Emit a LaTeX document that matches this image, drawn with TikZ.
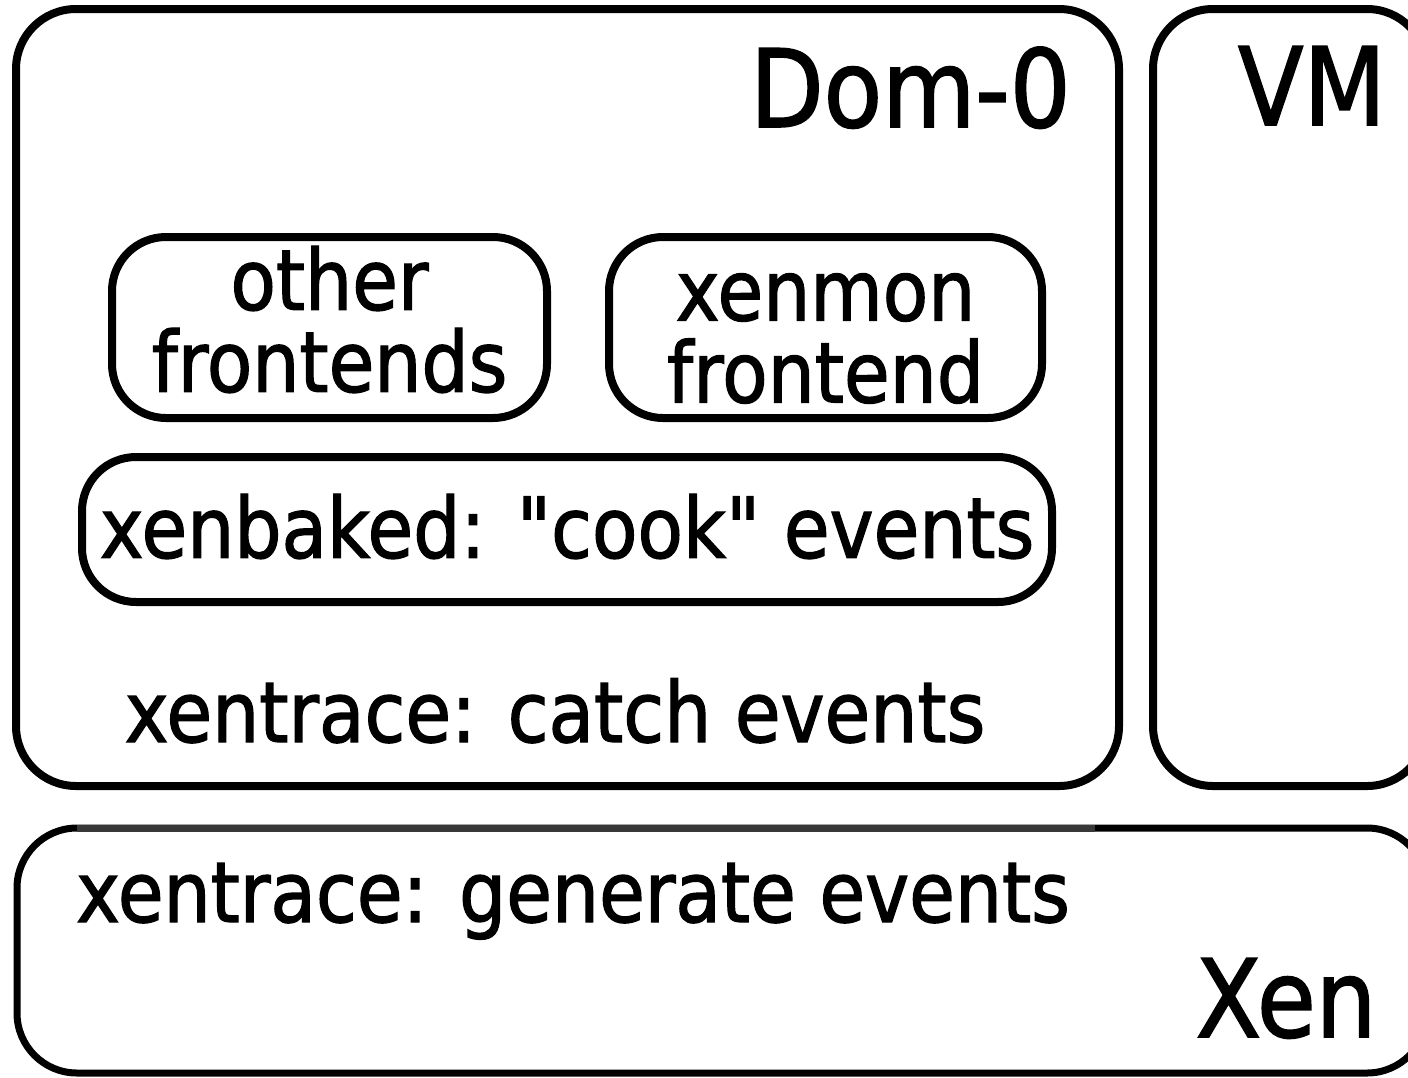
\documentclass[tikz,border=0pt]{standalone}
\usepackage{fontspec}
\setmainfont{DejaVu Sans}[FakeStretch=0.885, FakeBold=1.5, Ligatures=TeXOff]
\usepackage{tikz}
\newcommand{\smalltext}{\fontsize{42pt}{41pt}\selectfont}
\newcommand{\bigtext}{\fontsize{54pt}{54pt}\selectfont}
\tikzstyle{box}=[draw, line width=4pt, inner sep=0, outer sep=0]
\tikzstyle{dombox}=[box, rounded corners=30pt]
\tikzstyle{progbox}=[box, rounded corners=27pt, font=\smalltext, align=center]

\begin{document}
\begin{tikzpicture}[x=0.5pt, y=-0.5pt, every node/.style={inner sep=0}]
        \useasboundingbox (0,0) rectangle (1408,1077);
        % domains
        \node[dombox, minimum width=551.5pt, minimum height=388.5pt] (dom0) at (567.5,397.5) {};
        \node[dombox, minimum width=137pt, minimum height=388.5pt] (vm) at (1290,397.5) {};
        \node[dombox, line width=3.5pt, minimum width=705pt, minimum height=122.5pt] (xen) at (722,950.5) {};
        \draw[line width=3.5pt, black!78] ([xshift=30pt]xen.north west) -- ([xshift=539pt]xen.north west);
        % programs in dom-0
        \node[progbox, minimum width=217.5pt, minimum height=90.5pt] (other) at (329.5,327.5) {};
        \node[progbox, minimum width=216.5pt, minimum height=90.5pt] (xenmon) at (825.5,327.5) {};
        \node[progbox, minimum width=485pt, minimum height=72.5pt] (baked) at (567,529.5) {};
        \node[font=\smalltext, align=center, yshift=4pt] (othertext) at (other) {other\\frontends};
        \node[font=\smalltext, align=center, yshift=-5.5pt] (xenmontext) at (xenmon) {xenmon\\frontend};
        \node[font=\smalltext, yshift=1.5pt] (bakedtext) at (baked) {xenbaked: "cook" events};
        % labels
        \node[font=\bigtext, anchor=base east] (dom0label) at (1071,127) {Dom-0};
        \node[font=\bigtext, anchor=base] (vmlabel) at (1312,125) {VM};
        \node[font=\smalltext, anchor=base] (catch) at (555,742) {xentrace: catch events};
        \node[font=\smalltext, anchor=base] (generate) at (573,922) {xentrace: generate events};
        \node[font=\bigtext, anchor=base] (xenlabel) at (1286,1037) {Xen};
    \end{tikzpicture}
\end{document}
